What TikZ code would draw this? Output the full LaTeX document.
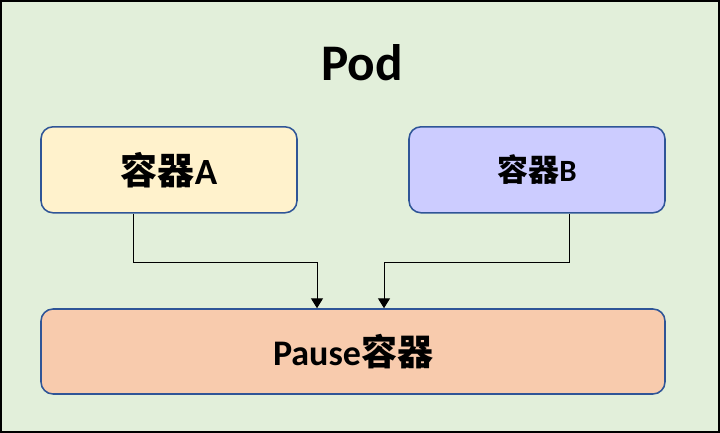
\documentclass[tikz,border=0pt]{standalone}
\usepackage{fontspec}
\setmainfont{Carlito}
\newfontfamily\cjk{Noto Sans CJK SC}
\usetikzlibrary{arrows.meta}
\definecolor{podgreen}{HTML}{E2EFDA}
\definecolor{boxblue}{HTML}{2F5597}
\definecolor{fillA}{HTML}{FFF2CC}
\definecolor{fillB}{HTML}{CCCCFF}
\definecolor{fillP}{HTML}{F8CBAD}

\begin{document}
\begin{tikzpicture}[>={Triangle[width=8.5pt,length=7pt]},
  ctr/.style={draw=boxblue, line width=1.1pt, rounded corners=0.3cm, inner sep=0pt, font=\bfseries}]
\useasboundingbox (0,0) rectangle (18,10.825);
\draw[fill=podgreen, line width=1.5pt] (0.02,0.02) rectangle (17.98,10.805);
\node[anchor=base, font=\bfseries\fontsize{36.5}{40}\selectfont] (podTitle) at (9.05,8.8) {Pod};
\node[ctr, fill=fillA, minimum width=6.4cm, minimum height=2.15cm, font=\bfseries\fontsize{26.3}{30}\selectfont] (ctrA) at (4.225,6.58) {{\cjk\bfseries 容器}A};
\node[ctr, fill=fillB, minimum width=6.4cm, minimum height=2.15cm, font=\bfseries\fontsize{22}{26}\selectfont] (ctrB) at (13.425,6.58) {{\cjk\bfseries 容器}B};
\node[ctr, fill=fillP, minimum width=15.6cm, minimum height=2.125cm, font=\bfseries\fontsize{25.6}{30}\selectfont] (pause) at (8.825,2.0375) {Pause{\cjk\bfseries 容器}};
\coordinate (jA) at (7.925,4.275);\coordinate (jB) at (9.6,4.275);
\draw[->, line width=0.7pt] (ctrA.south -| 3.325,0) |- (jA) -- (jA |- pause.north);
\draw[->, line width=0.7pt] (ctrB.south -| 14.225,0) |- (jB) -- (jB |- pause.north);
\end{tikzpicture}
\end{document}
